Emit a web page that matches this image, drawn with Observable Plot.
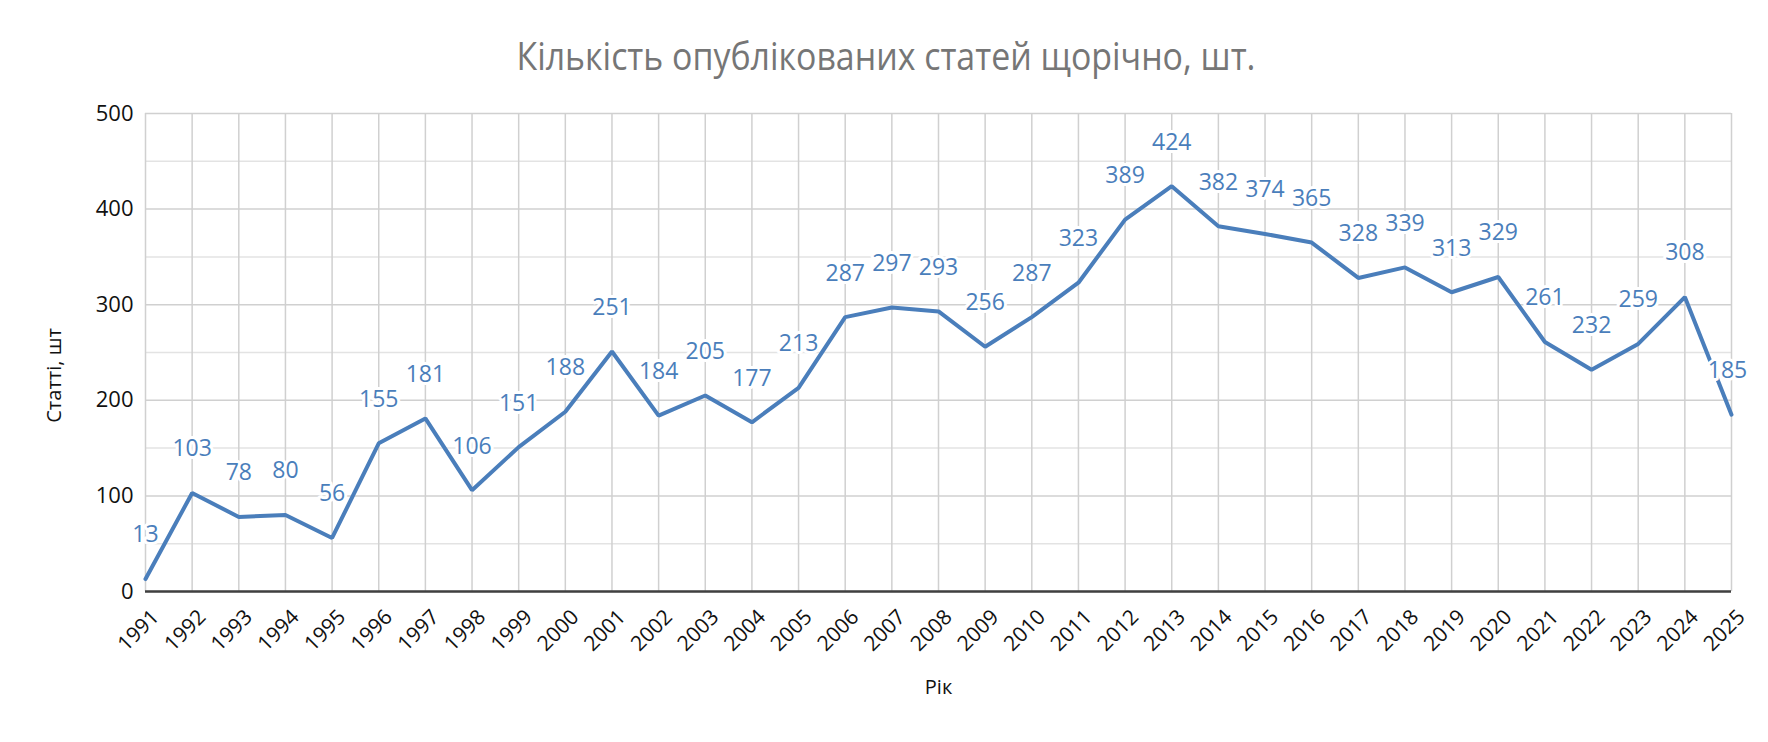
<!DOCTYPE html>
<html>
<head>
<meta charset="utf-8">
<script src="https://cdn.jsdelivr.net/npm/d3@7"></script>
<script src="https://cdn.jsdelivr.net/npm/@observablehq/plot@0.6"></script>
<style>
  html, body { margin: 0; padding: 0; background: #fff; }
  #wrap { width: 1768px; height: 742px; position: relative; overflow: hidden; }
  #title { height: 100px; position: relative; }
  #title span {
    position: absolute; left: 886px; top: 55px;
    font-family: "Open Sans", sans-serif; font-weight: 400; font-size: 38px;
    color: #767676; white-space: nowrap; transform-origin: center center;
  }
</style>
</head>
<body>
<div id="wrap">
  <div id="title"><span id="t">Кількість опублікованих статей щорічно, шт.</span></div>
  <div id="chart"></div>
</div>
<script>
const years = [1991,1992,1993,1994,1995,1996,1997,1998,1999,2000,2001,2002,2003,2004,2005,2006,2007,2008,2009,2010,2011,2012,2013,2014,2015,2016,2017,2018,2019,2020,2021,2022,2023,2024,2025];
const articles = [13,103,78,80,56,155,181,106,151,188,251,184,205,177,213,287,297,293,256,287,323,389,424,382,374,365,328,339,313,329,261,232,259,308,185];
const majorTicks = [0,100,200,300,400,500];
const minorTicks = [50,150,250,350,450];
const yLabel = "Статті, шт";
const xLabel = "Рік";

const data = years.map((y, i) => ({year: y, value: articles[i]}));
const lastYear = years[years.length - 1];
const blue = "#4a7ebb";

const t = document.getElementById("t");
const w = t.getBoundingClientRect().width;
const sx = 739 / w;
t.style.transform = `translate(-50%, -50%) scaleX(${sx})`;

const chart = Plot.plot({
  width: 1768,
  height: 642,
  marginTop: 13,
  marginBottom: 151,
  marginLeft: 145,
  marginRight: 37,
  style: {fontFamily: "'Open Sans', sans-serif", background: "#fff", overflow: "visible"},
  x: {domain: [1991, 2025]},
  y: {domain: [0, 500]},
  marks: [
    Plot.gridY(minorTicks, {stroke: "#e3e3e3", strokeOpacity: 1, strokeWidth: 1.5}),
    Plot.gridY(majorTicks, {stroke: "#d0d0d0", strokeOpacity: 1, strokeWidth: 1.5}),
    Plot.gridX(years, {stroke: "#d0d0d0", strokeOpacity: 1, strokeWidth: 1.5}),
    Plot.ruleY([0], {stroke: "#404040", strokeWidth: 2.5}),
    Plot.axisY(majorTicks, {tickSize: 0, tickPadding: 12, fontSize: 22, color: "#111", label: null}),
    Plot.axisX(years, {tickSize: 0, tickPadding: 10, dx: 10, dy: 12, tickRotate: -45, fontSize: 21, color: "#111", tickFormat: d => String(d), label: null}),
    Plot.text([{label: yLabel, pos: 226}], {text: "label", y: "pos", frameAnchor: "left", textAnchor: "middle", dx: -91, rotate: -90, fontSize: 20, fill: "#111"}),
    Plot.text([xLabel], {frameAnchor: "bottom", dy: 102, fontSize: 20, fill: "#111"}),
    Plot.line(data, {x: "year", y: "value", stroke: blue, strokeWidth: 4, strokeLinejoin: "miter"}),
    Plot.text(data.filter(d => d.year !== lastYear), {x: "year", y: "value", text: d => String(d.value), dy: -44, fontSize: 23, fill: blue, stroke: "white", strokeWidth: 6}),
    Plot.text(data.filter(d => d.year === lastYear), {x: "year", y: "value", text: d => String(d.value), dy: -44, dx: -4, fontSize: 23, fill: blue, stroke: "white", strokeWidth: 6})
  ]
});
document.getElementById("chart").appendChild(chart);
</script>
</body>
</html>
